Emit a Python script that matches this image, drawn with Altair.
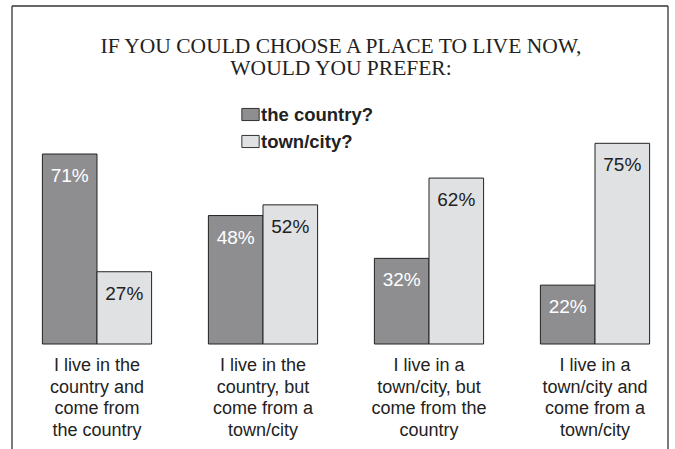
import altair as alt
import pandas as pd

categories = [
    "I live in the\ncountry and\ncome from\nthe country",
    "I live in the\ncountry, but\ncome from a\ntown/city",
    "I live in a\ntown/city, but\ncome from the\ncountry",
    "I live in a\ntown/city and\ncome from a\ntown/city",
]
series = ["the country?", "town/city?"]
country_vals = [71, 48, 32, 22]
town_vals = [27, 52, 62, 75]
title_lines = "IF YOU COULD CHOOSE A PLACE TO LIVE NOW,\nWOULD YOU PREFER:"

rows = []
for c, a, b in zip(categories, country_vals, town_vals):
    rows.append({"cat": c, "series": series[0], "value": a, "label": f"{a}%"})
    rows.append({"cat": c, "series": series[1], "value": b, "label": f"{b}%"})
df = pd.DataFrame(rows)
cat_df = pd.DataFrame({"cat": categories})
title_df = pd.DataFrame({"t": [title_lines]})

x_scale = alt.Scale(domain=categories, range=[14, 678], paddingInner=0, paddingOuter=0)
xo_scale = alt.Scale(domain=series, paddingInner=0, paddingOuter=0.52)
y_scale = alt.Scale(domain=[0, 100], range=[344, 76.4])

bars = alt.Chart(df).mark_bar(stroke="#222", strokeWidth=1).encode(
    x=alt.X("cat:N", scale=x_scale, axis=None, sort=categories),
    xOffset=alt.XOffset("series:N", scale=xo_scale, sort=series),
    y=alt.Y("value:Q", scale=y_scale, axis=None),
    color=alt.Color(
        "series:N",
        scale=alt.Scale(domain=series, range=["#8e8e90", "#e0e1e3"]),
        legend=alt.Legend(
            title=None,
            orient="none",
            legendX=241,
            legendY=105,
            symbolType="M-1,-0.7H1V0.7H-1Z",
            symbolSize=300,
            symbolStrokeColor="#333",
            symbolStrokeWidth=1,
            labelFont="Liberation Sans",
            labelFontWeight="bold",
            labelFontSize=18.5,
            labelColor="#222",
            labelOffset=1,
            rowPadding=8,
        ),
    ),
)

pct = alt.Chart(df).mark_text(
    font="Liberation Sans", fontSize=19, baseline="middle", align="center", dy=22
).encode(
    x=alt.X("cat:N", scale=x_scale, axis=None, sort=categories),
    xOffset=alt.XOffset("series:N", scale=xo_scale, sort=series),
    y=alt.Y("value:Q", scale=y_scale, axis=None),
    text="label:N",
    color=alt.condition(alt.datum.series == series[0], alt.value("white"), alt.value("#222")),
)

cat_text = alt.Chart(cat_df).mark_text(
    font="Liberation Sans", fontSize=18, lineBreak="\n", lineHeight=21.5,
    baseline="alphabetic", align="center", color="#222"
).encode(
    x=alt.X("cat:N", scale=x_scale, axis=None, sort=categories),
    y=alt.value(371),
    text="cat:N",
)

title = alt.Chart(title_df).mark_text(
    font="Liberation Serif", fontSize=21.5, lineBreak="\n", lineHeight=22,
    baseline="alphabetic", align="center", color="#222"
).encode(
    x=alt.value(341),
    y=alt.value(53),
    text="t:N",
)

frame_left = alt.Chart(title_df).mark_rule(color="#333", strokeWidth=1.3).encode(
    x=alt.value(12), y=alt.value(6), y2=alt.value(460)
)
frame_right = alt.Chart(title_df).mark_rule(color="#333", strokeWidth=1.3).encode(
    x=alt.value(668), y=alt.value(6), y2=alt.value(460)
)
frame_top = alt.Chart(title_df).mark_rule(color="#333", strokeWidth=1.3).encode(
    x=alt.value(12), x2=alt.value(668), y=alt.value(6)
)

chart = alt.layer(
    bars, pct, cat_text, title, frame_left, frame_right, frame_top
).properties(
    width=675, height=449, autosize=alt.AutoSizeParams(type="none"), padding=0,
    background="white",
).configure_view(stroke=None)

chart.save("out.html", embed_options={"renderer": "svg", "actions": False})
